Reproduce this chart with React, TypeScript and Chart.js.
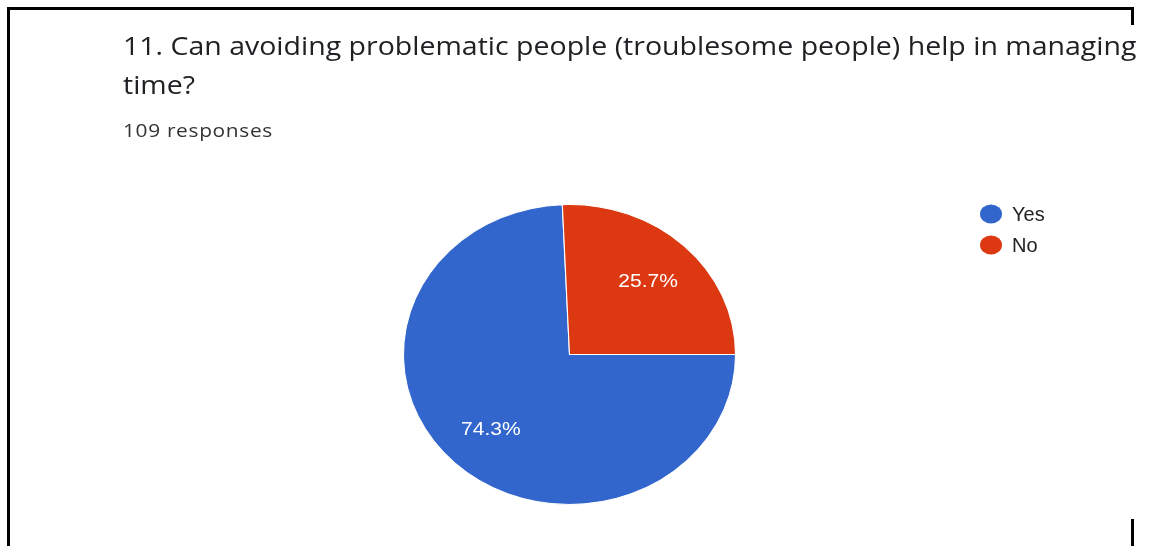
import React, { useEffect, useRef } from "react";
import { Chart, registerables } from "chart.js";

Chart.register(...registerables);

const titleLine1 = "11. Can avoiding problematic people (troublesome people) help in managing";
const titleLine2 = "time?";
const responsesText = "109 responses";
const categories = ["Yes", "No"];
const responseCounts = [81, 28];
const sliceColors = ["#3366cc", "#dc3912"];

const STRETCH = 1.107;
const LABEL_FRACTION = 0.685;

const ellipsePlugin = {
  id: "ellipsePie",
  beforeDatasetsDraw(chart: any) {
    const arc = chart.getDatasetMeta(0).data[0];
    if (!arc) return;
    const ctx = chart.ctx;
    ctx.save();
    ctx.translate(arc.x, arc.y);
    ctx.scale(STRETCH, 1);
    ctx.translate(-arc.x, -arc.y);
  },
  afterDatasetsDraw(chart: any) {
    const ctx = chart.ctx;
    const meta = chart.getDatasetMeta(0);
    const data = chart.data.datasets[0].data as number[];
    const total = data.reduce((a: number, b: number) => a + b, 0);
    ctx.fillStyle = "#ffffff";
    ctx.font = "19px 'Liberation Sans', Arial, sans-serif";
    ctx.textAlign = "center";
    ctx.textBaseline = "middle";
    meta.data.forEach((arc: any, i: number) => {
      const p = arc.getProps(["x", "y", "startAngle", "endAngle", "outerRadius"], true);
      const mid = (p.startAngle + p.endAngle) / 2;
      const r = p.outerRadius * LABEL_FRACTION;
      const pct = ((data[i] / total) * 100).toFixed(1) + "%";
      ctx.fillText(pct, p.x + Math.cos(mid) * r, p.y + Math.sin(mid) * r + 1.5);
    });
    ctx.restore();

    // legend
    const labels = chart.data.labels as string[];
    const colors = chart.data.datasets[0].backgroundColor as string[];
    ctx.save();
    labels.forEach((lab, i) => {
      const cy = 214 + i * 31;
      ctx.fillStyle = colors[i];
      ctx.beginPath();
      ctx.ellipse(991, cy, 11, 9.5, 0, 0, Math.PI * 2);
      ctx.fill();
      ctx.fillStyle = "#222222";
      ctx.font = "20px 'Liberation Sans', Arial, sans-serif";
      ctx.textAlign = "left";
      ctx.textBaseline = "alphabetic";
      ctx.fillText(lab, 1012, cy + 6.5);
    });
    ctx.restore();
  },
};

export default function App() {
  const canvasRef = useRef<HTMLCanvasElement | null>(null);

  useEffect(() => {
    if (!canvasRef.current) return;
    const chart = new Chart(canvasRef.current, {
      type: "pie",
      data: {
        labels: categories,
        datasets: [
          {
            data: responseCounts,
            backgroundColor: sliceColors,
            borderColor: "#ffffff",
            borderWidth: 1,
            radius: 150,
          } as any,
        ],
      },
      options: {
        responsive: true,
        maintainAspectRatio: false,
        animation: false,
        rotation: 90,
        layout: { padding: { left: 400, right: 411, top: 200, bottom: 37 } },
        plugins: {
          legend: { display: false },
          title: { display: false },
          tooltip: { enabled: false },
        },
      },
      plugins: [ellipsePlugin],
    });
    return () => chart.destroy();
  }, []);

  const line = (left: number, top: number, width: number, height: number) => (
    <div style={{ position: "absolute", left, top, width, height, background: "#000" }} />
  );

  const titleStyle: React.CSSProperties = {
    position: "absolute",
    left: 123,
    fontFamily: "'Open Sans', sans-serif",
    fontSize: 25,
    lineHeight: "39px",
    color: "#202124",
    whiteSpace: "nowrap",
    transform: "scaleX(1.14)",
    transformOrigin: "left top",
  };

  return (
    <div style={{ position: "absolute", left: 0, top: 0, width: 1150, height: 546, background: "#fff", overflow: "hidden" }}>
      <div style={{ position: "absolute", left: 0, top: 0, width: 1150, height: 546 }}>
        <canvas ref={canvasRef} />
      </div>
      {line(7, 7, 1127, 3)}
      {line(7, 7, 3, 539)}
      {line(1131, 7, 3, 18)}
      {line(1131, 519, 3, 27)}
      <div style={{ ...titleStyle, top: 26 }}>{titleLine1}</div>
      <div style={{ ...titleStyle, top: 65 }}>{titleLine2}</div>
      <div
        style={{
          position: "absolute",
          left: 123,
          top: 121,
          fontFamily: "'Open Sans', sans-serif",
          fontSize: 19,
          lineHeight: "19px",
          letterSpacing: "0.6px",
          color: "#333333",
          whiteSpace: "nowrap",
          transform: "scaleX(1.1)",
          transformOrigin: "left top",
        }}
      >
        {responsesText}
      </div>
    </div>
  );
}
